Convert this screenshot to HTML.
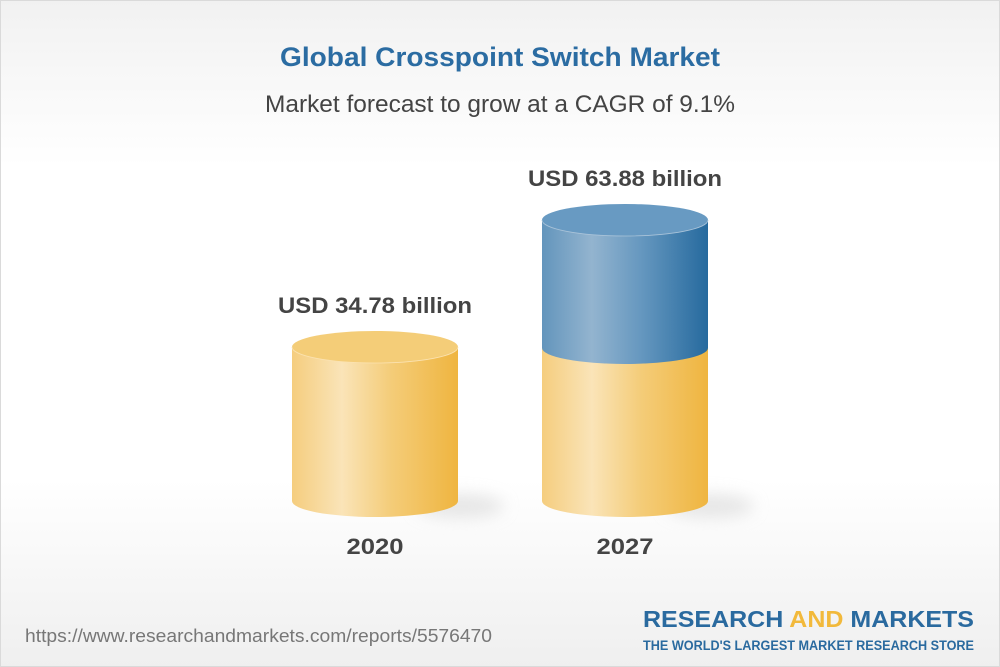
<!DOCTYPE html>
<html>
<head>
<meta charset="utf-8">
<style>
  html,body{margin:0;padding:0;}
  body{width:1000px;height:667px;overflow:hidden;}
  svg{display:block;}
</style>
</head>
<body>
<svg width="1000" height="667" viewBox="0 0 1000 667" xmlns="http://www.w3.org/2000/svg">
  <defs>
    <linearGradient id="bg" x1="0" y1="0" x2="0" y2="1">
      <stop offset="0" stop-color="#f1f1f1"/>
      <stop offset="0.25" stop-color="#ffffff"/>
      <stop offset="0.72" stop-color="#ffffff"/>
      <stop offset="1" stop-color="#efefef"/>
    </linearGradient>
    <linearGradient id="yel" x1="0" y1="0" x2="1" y2="0">
      <stop offset="0" stop-color="#f5cd7e"/>
      <stop offset="0.3" stop-color="#fae4b8"/>
      <stop offset="0.6" stop-color="#f4cc78"/>
      <stop offset="1" stop-color="#efb540"/>
    </linearGradient>
    <linearGradient id="blu" x1="0" y1="0" x2="1" y2="0">
      <stop offset="0" stop-color="#6395bc"/>
      <stop offset="0.3" stop-color="#93b4cf"/>
      <stop offset="0.6" stop-color="#6597bf"/>
      <stop offset="1" stop-color="#266a9e"/>
    </linearGradient>
    <filter id="blur" x="-50%" y="-100%" width="200%" height="300%">
      <feGaussianBlur stdDeviation="8"/>
    </filter>
  </defs>

  <rect x="0" y="0" width="1000" height="667" fill="url(#bg)"/>
  <rect x="0.5" y="0.5" width="999" height="666" fill="none" stroke="#dadada" stroke-width="1"/>

  <text x="500" y="66" text-anchor="middle" font-family="Liberation Sans, sans-serif" font-weight="bold" font-size="27" fill="#2b6ca2" textLength="440" lengthAdjust="spacingAndGlyphs">Global Crosspoint Switch Market</text>
  <text x="500" y="112" text-anchor="middle" font-family="Liberation Sans, sans-serif" font-size="24" fill="#444444" textLength="470" lengthAdjust="spacingAndGlyphs">Market forecast to grow at a CAGR of 9.1%</text>

  <!-- shadows -->
  <ellipse cx="460" cy="506" rx="44" ry="12" fill="#d4d4d4" filter="url(#blur)" opacity="0.55"/>
  <ellipse cx="710" cy="506" rx="44" ry="12" fill="#d4d4d4" filter="url(#blur)" opacity="0.55"/>

  <!-- Cylinder 1 (2020) -->
  <path d="M292,347 L292,501 A83,16 0 0 0 458,501 L458,347 Z" fill="url(#yel)"/>
  <ellipse cx="375" cy="347" rx="83" ry="16" fill="#f4cd78"/>
  <path d="M292,347 A83,16 0 0 0 458,347" fill="none" stroke="#fbe2b0" stroke-width="0.8"/>

  <!-- Cylinder 2 (2027) -->
  <path d="M542,348 L542,501 A83,16 0 0 0 708,501 L708,348 Z" fill="url(#yel)"/>
  <path d="M542,220 L542,348 A83,16 0 0 0 708,348 L708,220 Z" fill="url(#blu)"/>
  <ellipse cx="625" cy="220" rx="83" ry="16" fill="#689ac2"/>
  <path d="M542,220 A83,16 0 0 0 708,220" fill="none" stroke="#a9c3d9" stroke-width="0.8"/>

  <!-- value labels -->
  <text x="375" y="313" text-anchor="middle" font-family="Liberation Sans, sans-serif" font-weight="bold" font-size="22" fill="#444444" textLength="194" lengthAdjust="spacingAndGlyphs">USD 34.78 billion</text>
  <text x="625" y="186" text-anchor="middle" font-family="Liberation Sans, sans-serif" font-weight="bold" font-size="22" fill="#444444" textLength="194" lengthAdjust="spacingAndGlyphs">USD 63.88 billion</text>

  <!-- year labels -->
  <text x="375" y="554" text-anchor="middle" font-family="Liberation Sans, sans-serif" font-weight="bold" font-size="22" fill="#444444" textLength="57" lengthAdjust="spacingAndGlyphs">2020</text>
  <text x="625" y="554" text-anchor="middle" font-family="Liberation Sans, sans-serif" font-weight="bold" font-size="22" fill="#444444" textLength="57" lengthAdjust="spacingAndGlyphs">2027</text>

  <!-- URL -->
  <text x="25" y="642" font-family="Liberation Sans, sans-serif" font-size="18" fill="#777777" textLength="467" lengthAdjust="spacingAndGlyphs">https://www.researchandmarkets.com/reports/5576470</text>

  <!-- Logo -->
  <text x="643" y="627" font-family="Liberation Sans, sans-serif" font-weight="bold" font-size="23" textLength="331" lengthAdjust="spacingAndGlyphs"><tspan fill="#2a6a9f">RESEARCH </tspan><tspan fill="#f2b93b">AND</tspan><tspan fill="#2a6a9f"> MARKETS</tspan></text>
  <text x="643" y="650" font-family="Liberation Sans, sans-serif" font-weight="bold" font-size="13.5" fill="#2a6a9f" textLength="331" lengthAdjust="spacingAndGlyphs">THE WORLD'S LARGEST MARKET RESEARCH STORE</text>
</svg>
</body>
</html>
